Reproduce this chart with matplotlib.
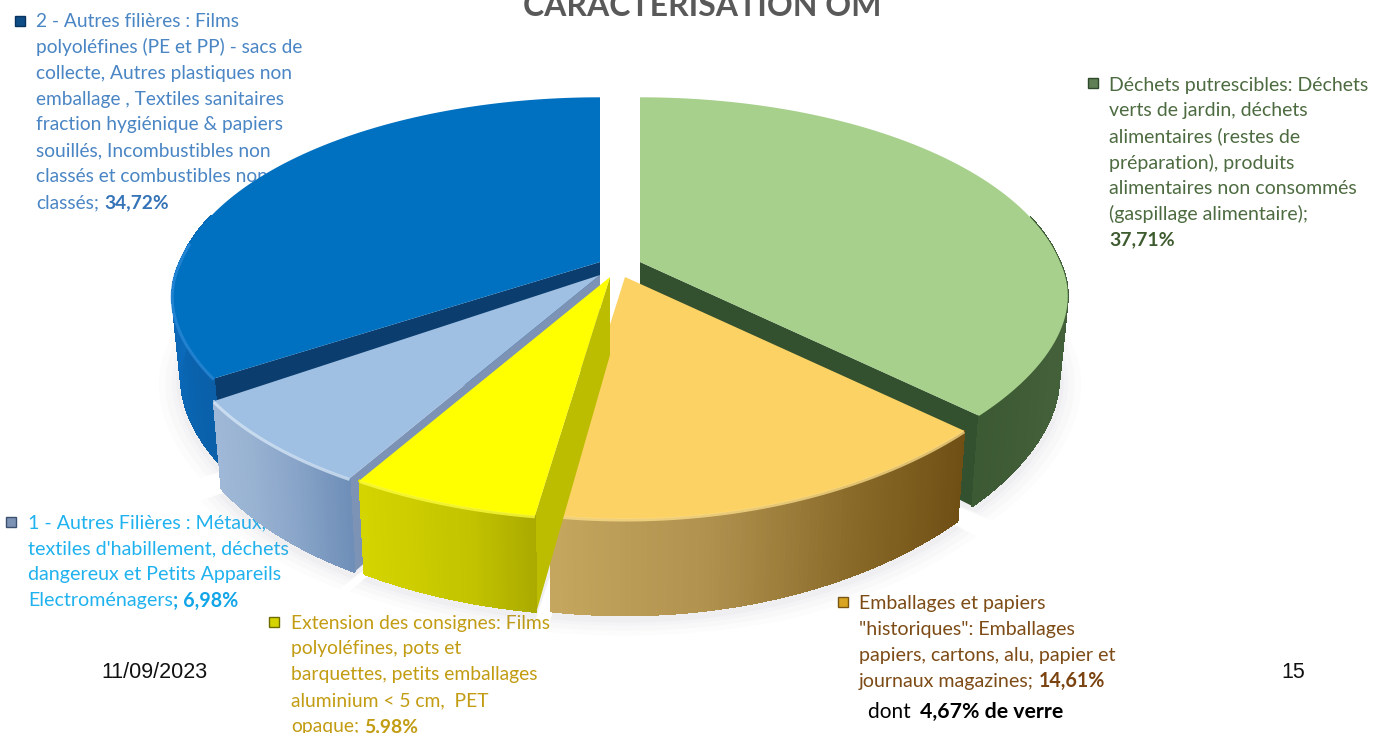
import numpy as np
import matplotlib
matplotlib.use("Agg")
import matplotlib.pyplot as plt
from matplotlib.collections import PolyCollection
from matplotlib.colors import LinearSegmentedColormap as LSC

# ---- data -----
categories = ["Déchets putrescibles", "Emballages et papiers historiques",
              "Extension des consignes", "1 - Autres Filières", "2 - Autres filières"]
shares = [37.71, 14.61, 5.98, 6.98, 34.72]
shares_txt = ["37,71%", "14,61%", "5,98%", "6,98%", "34,72%"]

# ---- style -----
top_colors = ["#a6d08b", "#fdd264", "#ffff00", "#9fc0e3", "#0070c0"]
side_stops = [["#3c5a34", "#3f5f38", "#44603a", "#3c5a34"],
              ["#6f4f14", "#8a6a28", "#b0914e", "#c4a65e"],
              ["#aaaa00", "#c2c200", "#cccc00", "#d4d400"],
              ["#6f8fb8", "#88a4c8", "#98b2d2", "#9fb8d8"],
              ["#0a5fa8", "#0a66b4", "#0b6aba", "#0b6aba"]]
radial_colors = ["#33502f", None, "#bcbc00", "#7d93b5", "#0b3d6e"]
radial_at_end = [True, False, False, False, False]
bevel_colors = [None, "#ffe08a", "#ffff40", "#d8e8f8", "#2a8ad8"]
apex = [(640, 262), (625, 277), (610, 277), (600, 275), (600, 262)]
warp = [25, 25, 0, 0, 25]
draw_order = [4, 0, 3, 1, 2]
R, S, P, D, K = 420, 196, 0.19, 78, 0.98

fig = plt.figure(figsize=(13.81, 7.33), dpi=100, facecolor="white")
ax = fig.add_axes([0, 0, 1, 1])
ax.set_xlim(0, 1381)
ax.set_ylim(733, 0)
ax.axis("off")


def project(theta, i, bottom=False, grow=1.0):
    a = apex[i]
    X, Y = np.sin(theta) * grow, np.cos(theta) * grow
    w = 1 + P * Y
    k = K if bottom else 1.0
    lift = warp[i] * np.minimum(Y, 0) * (1 - np.minimum(Y * Y, 1))
    return a[0] + k * R * X / w, a[1] - S * Y / w + lift + (D / w if bottom else 0)


edges = np.radians(np.concatenate([[0], np.cumsum(shares)]) * 3.6)

# faint drop shadow below the pie: only the slices whose rim faces the viewer
for g, al in zip([1.05, 1.035, 1.02, 1.01], [.025, .03, .035, .04]):
    for i in range(5):
        th = np.linspace(edges[i], edges[i + 1], 80)
        th = th[np.cos(th) < 0.25]
        x, y = project(th, i, True, g)
        ax.fill(np.r_[x, apex[i][0]], np.r_[y + 4, apex[i][1] + 120],
                color="#8a8aa8", alpha=al, lw=0, zorder=4)

for z, i in enumerate(draw_order):
    a = apex[i]
    base = 10 + z * 5
    t1, t2 = edges[i], edges[i + 1]
    th = np.linspace(t1, t2, 90)
    cmap = LSC.from_list("s", side_stops[i])
    rc = radial_colors[i]
    if rc:
        te = t2 if radial_at_end[i] else t1
        xe, ye = project(te, i)
        xf, yf = project(te, i, True)
        ax.fill([a[0], xe, xf, a[0]], [a[1], ye, yf, a[1] + D], color=rc, lw=0, zorder=base)
    # front part of the rim: a solid base, then the shaded strips
    ths = th[np.cos(th) < 0.25]
    xt, yt = project(ths, i)
    xb, yb = project(ths, i, True)
    ax.fill(np.r_[xt, xb[::-1]], np.r_[yt, yb[::-1]], color=side_stops[i][1], lw=0, zorder=base + 0.5)
    polys = [[(xt[j], yt[j]), (xt[j + 1], yt[j + 1]), (xb[j + 1], yb[j + 1]), (xb[j], yb[j])]
             for j in range(len(ths) - 1)]
    cols = cmap(np.linspace(0, 1, len(polys)))
    ax.add_collection(PolyCollection(polys, facecolors=cols, edgecolors=cols, linewidths=0.8,
                                     antialiaseds=False, zorder=base + 1))
    xt, yt = project(th, i)
    ax.fill(np.r_[a[0], xt], np.r_[a[1], yt], color=top_colors[i], lw=0, zorder=base + 2)
    if bevel_colors[i]:
        mask = np.cos(th) < 0.1
        ax.plot(xt[mask], yt[mask] + 1, color=bevel_colors[i], lw=2.2, alpha=.75,
                solid_capstyle="butt", zorder=base + 2.5)

LH = 25.85
renderer = fig.canvas.get_renderer()


def block(x, y0, lines, color, bold_color=None, bold_tail=None, fs=14.0):
    for n, line in enumerate(lines):
        y = y0 + n * LH
        if n == len(lines) - 1 and bold_tail:
            w = 0
            if line:
                t = ax.text(x, y, line, color=color, fontsize=fs, family="Lato", va="center", zorder=2)
                w = t.get_window_extent(renderer).width + (5 if line.endswith(";") else 0)
            ax.text(x + w, y, bold_tail, color=bold_color or color, fontsize=fs, family="Lato",
                    fontweight="bold", va="center", zorder=2)
        else:
            ax.text(x, y, line, color=color, fontsize=fs, family="Lato", va="center", zorder=2)


lines_blue = ["2 - Autres filières : Films", "polyoléfines (PE et PP) - sacs de",
              "collecte, Autres plastiques non", "emballage , Textiles sanitaires",
              "fraction hygiénique & papiers", "souillés, Incombustibles non",
              "classés et combustibles non", "classés;"]
lines_green = ["Déchets putrescibles: Déchets", "verts de jardin, déchets", "alimentaires (restes de",
               "préparation), produits", "alimentaires non consommés", "(gaspillage alimentaire);", ""]
lines_orange = ["Emballages et papiers", "\"historiques\": Emballages",
                "papiers, cartons, alu, papier et", "journaux magazines;"]
lines_yellow = ["Extension des consignes: Films", "polyoléfines, pots et", "barquettes, petits emballages",
                "aluminium < 5 cm,  PET", "opaque;"]
lines_light = ["1 - Autres Filières : Métaux,", "textiles d'habillement, déchets",
               "dangereux et Petits Appareils", "Electroménagers"]

block(36, 21.5, lines_blue, "#4a85c4", "#3674b8", shares_txt[4], fs=13.75)
block(1109, 85, lines_green, "#4d6b40", "#3f5c30", shares_txt[0], fs=14.0)
block(859, 603.5, lines_orange, "#7d4b16", "#7a4310", shares_txt[1], fs=14.1)
block(291, 623, lines_yellow, "#c29c12", "#c29c12", shares_txt[2], fs=13.9)
block(28, 523, lines_light, "#20b2ee", "#12a5e8", "; " + shares_txt[3], fs=14.1)

t = ax.text(868, 712, "dont ", color="black", fontsize=15, family="Lato", va="center", zorder=30)
w0 = t.get_window_extent(renderer).width + 4
t = ax.text(868 + w0, 712, "4,67% de verre", color="black", fontsize=15.3, family="Lato",
            fontweight="bold", va="center", zorder=30)

for mx, my, mc, mc2 in [(20, 21, "#0f4d86", "#07335e"), (1093, 83, "#5f7f55", "#2e4a2c"),
                        (843, 602, "#d9a520", "#7a5510"), (274, 622, "#d6d400", "#6e6c00"),
                        (11, 522, "#7d93b5", "#3c5070")]:
    ax.plot([mx], [my], marker="s", ms=7.5, color=mc, mec=mc2, mew=1, zorder=3, ls="none")

ax.text(154.5, 672, "11/09/2023", fontsize=15.5, family="Liberation Sans", color="#111111",
        ha="center", va="center", zorder=30)
ax.text(1293, 672, "15", fontsize=15.5, family="Liberation Sans", color="#111111",
        ha="center", va="center", zorder=30)
ax.text(702, 6, "CARACTERISATION OM", fontsize=23, family="Lato", fontweight="bold", color="#595959",
        ha="center", va="center", zorder=30)

fig.savefig("out.png", dpi=100, facecolor="white")
